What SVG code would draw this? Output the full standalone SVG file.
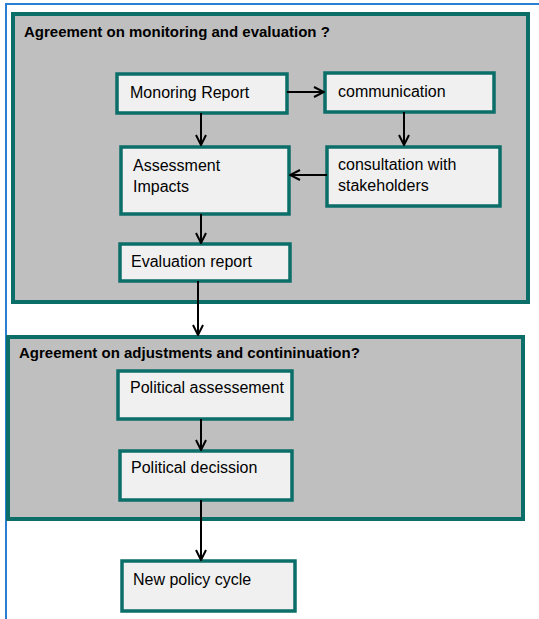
<svg xmlns="http://www.w3.org/2000/svg" width="539" height="619" viewBox="0 0 539 619">
<defs>
<marker id="arr" viewBox="0 0 12 12" refX="11" refY="6" markerWidth="12" markerHeight="12" markerUnits="userSpaceOnUse" orient="auto">
<path d="M1,1 L11,6 L1,11" fill="none" stroke="#000" stroke-width="2"/>
</marker>
</defs>
<style>
.frame{fill:none;stroke:#2a7fd2;stroke-width:2}
.outer{fill:#bfbfbf;stroke:#0b6e69;stroke-width:4}
.box{fill:#f0f0f0;stroke:#0b6e69;stroke-width:3.5}
.t{font-family:"Liberation Sans",Arial,sans-serif;font-size:16px;fill:#000}
.h{font-family:"Liberation Sans",Arial,sans-serif;font-size:15px;font-weight:bold;fill:#000}
.c{fill:none;stroke:#000;stroke-width:2;marker-end:url(#arr)}
</style>
<rect width="539" height="619" fill="#fff"/>
<path class="frame" d="M6,619 V4 H539"/>
<g id="group1">
<rect class="outer" x="13" y="14" width="515" height="288"/>
<text class="h" x="24" y="37">Agreement on monitoring and evaluation ?</text>
</g>
<g id="group2">
<rect class="outer" x="8" y="337" width="515" height="182"/>
<text class="h" x="19" y="358">Agreement on adjustments and contininuation?</text>
</g>
<g id="monoring">
<rect class="box" x="117" y="74" width="170" height="39"/>
<text class="t" x="130" y="98">Monoring Report</text>
</g>
<g id="communication">
<rect class="box" x="325" y="73" width="169" height="39"/>
<text class="t" x="338" y="97">communication</text>
</g>
<g id="assessment">
<rect class="box" x="121" y="147" width="168" height="67"/>
<text class="t" x="133" y="171">Assessment</text>
<text class="t" x="133" y="192">Impacts</text>
</g>
<g id="consultation">
<rect class="box" x="327" y="147" width="173" height="59"/>
<text class="t" x="338" y="170">consultation with</text>
<text class="t" x="338" y="191">stakeholders</text>
</g>
<g id="evaluation">
<rect class="box" x="120" y="244" width="170" height="37"/>
<text class="t" x="131" y="267">Evaluation report</text>
</g>
<g id="polassess">
<rect class="box" x="118" y="371" width="174" height="48"/>
<text class="t" x="130" y="393">Political assessement</text>
</g>
<g id="poldecision">
<rect class="box" x="120" y="451" width="172" height="49"/>
<text class="t" x="131" y="473">Political decission</text>
</g>
<g id="newcycle">
<rect class="box" x="122" y="561" width="173" height="50"/>
<text class="t" x="133" y="585">New policy cycle</text>
</g>
<g id="connectors">
<line class="c" x1="287" y1="92" x2="324" y2="92"/>
<line class="c" x1="404" y1="112" x2="404" y2="145"/>
<line class="c" x1="327" y1="175" x2="290" y2="175"/>
<line class="c" x1="201" y1="113" x2="201" y2="145"/>
<line class="c" x1="201" y1="214" x2="201" y2="243"/>
<line class="c" x1="198" y1="281" x2="198" y2="335"/>
<line class="c" x1="201" y1="419" x2="201" y2="450"/>
<line class="c" x1="201" y1="500" x2="201" y2="560"/>
</g>
</svg>
